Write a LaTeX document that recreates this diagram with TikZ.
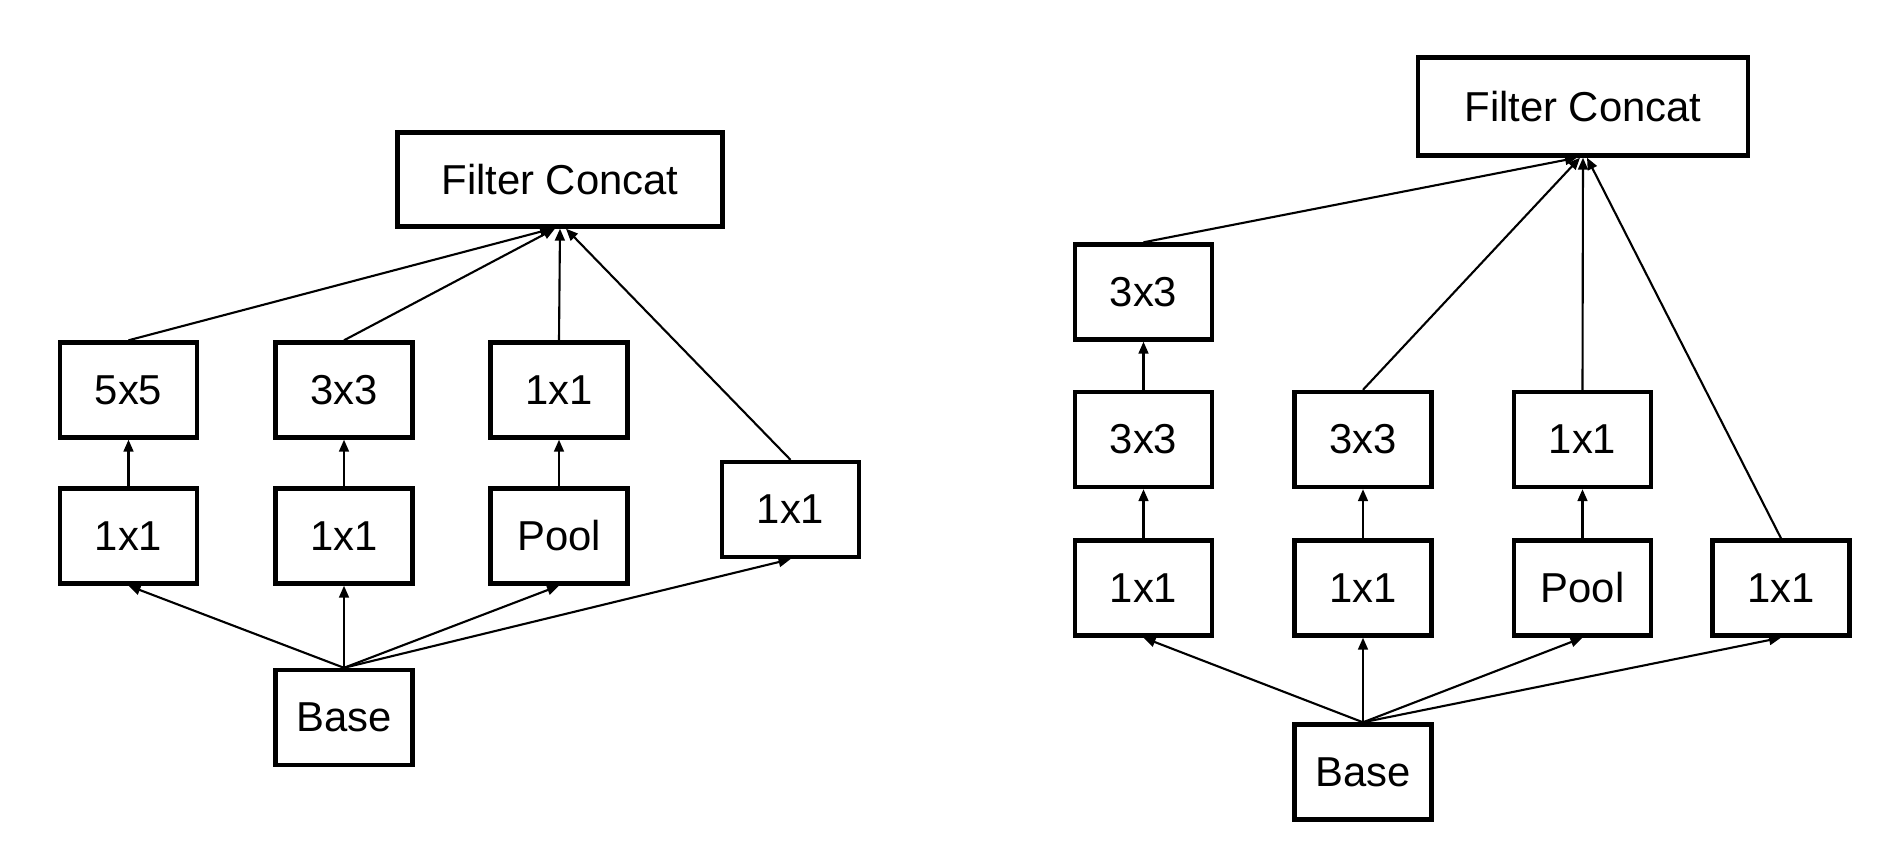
\documentclass[tikz,border=0pt]{standalone}
\usepackage{fontspec}
\setmainfont{Liberation Sans}
\usepackage{tikz}
\usetikzlibrary{arrows.meta}

\tikzset{
  box/.style = {draw, line width = 1.25pt, minimum width = 1.37cm, minimum height = 0.95cm, inner sep = 0pt, font = \fontsize{11.9}{13}\selectfont},
  concat/.style = {box, minimum width = 3.25cm},
  conn/.style = {line width = 0.6pt, -{Triangle[length = 3.4pt, width = 2.8pt]}}
}

\begin{document}
\begin{tikzpicture}
\useasboundingbox (0,0) rectangle (19.04,8.62);

% left module
\node[concat, minimum height = 0.94cm] (fcL) at (5.60,6.825) {Filter Concat};
\node[box] (lA) at (1.285,4.72) {5x5};
\node[box] (lB) at (3.44,4.72) {3x3};
\node[box] (lC) at (5.59,4.72) {1x1};
\node[box] (lD) at (1.285,3.26) {1x1};
\node[box] (lE) at (3.44,3.26) {1x1};
\node[box] (lF) at (5.59,3.26) {Pool};
\node[box] (lG) at (7.905,3.525) {1x1};
\node[box] (baseL) at (3.44,1.445) {Base};

\draw[conn] (baseL.north) -- (lD.south);
\draw[conn] (baseL.north) -- (lE.south);
\draw[conn] (baseL.north) -- (lF.south);
\draw[conn] (baseL.north) -- (lG.south);
\draw[conn] (lD.north) -- (lA.south);
\draw[conn] (lE.north) -- (lB.south);
\draw[conn] (lF.north) -- (lC.south);
\draw[conn] (lA.north) -- ([xshift=-0.08cm]fcL.south);
\draw[conn] (lB.north) -- ([xshift=-0.05cm]fcL.south);
\draw[conn] (lC.north) -- (fcL.south);
\draw[conn] (lG.north) -- ([xshift=0.06cm]fcL.south);

% right module
\node[concat, minimum width = 3.30cm, minimum height = 0.98cm] (fcR) at (15.83,7.555) {Filter Concat};
\node[box] (rA) at (11.435,5.70) {3x3};
\node[box] (rB) at (11.435,4.225) {3x3};
\node[box] (rC) at (13.63,4.225) {3x3};
\node[box] (rD) at (15.825,4.225) {1x1};
\node[box] (rE) at (11.435,2.74) {1x1};
\node[box] (rF) at (13.63,2.74) {1x1};
\node[box] (rG) at (15.825,2.74) {Pool};
\node[box] (rH) at (17.81,2.74) {1x1};
\node[box] (baseR) at (13.63,0.90) {Base};

\draw[conn] (baseR.north) -- (rE.south);
\draw[conn] (baseR.north) -- (rF.south);
\draw[conn] (baseR.north) -- (rG.south);
\draw[conn] (baseR.north) -- (rH.south);
\draw[conn] (rE.north) -- (rB.south);
\draw[conn] (rB.north) -- (rA.south);
\draw[conn] (rF.north) -- (rC.south);
\draw[conn] (rG.north) -- (rD.south);
\draw[conn] (rA.north) -- ([xshift=-0.06cm]fcR.south);
\draw[conn] (rC.north) -- ([xshift=-0.03cm]fcR.south);
\draw[conn] (rD.north) -- (fcR.south);
\draw[conn] (rH.north) -- ([xshift=0.04cm]fcR.south);
\end{tikzpicture}
\end{document}
